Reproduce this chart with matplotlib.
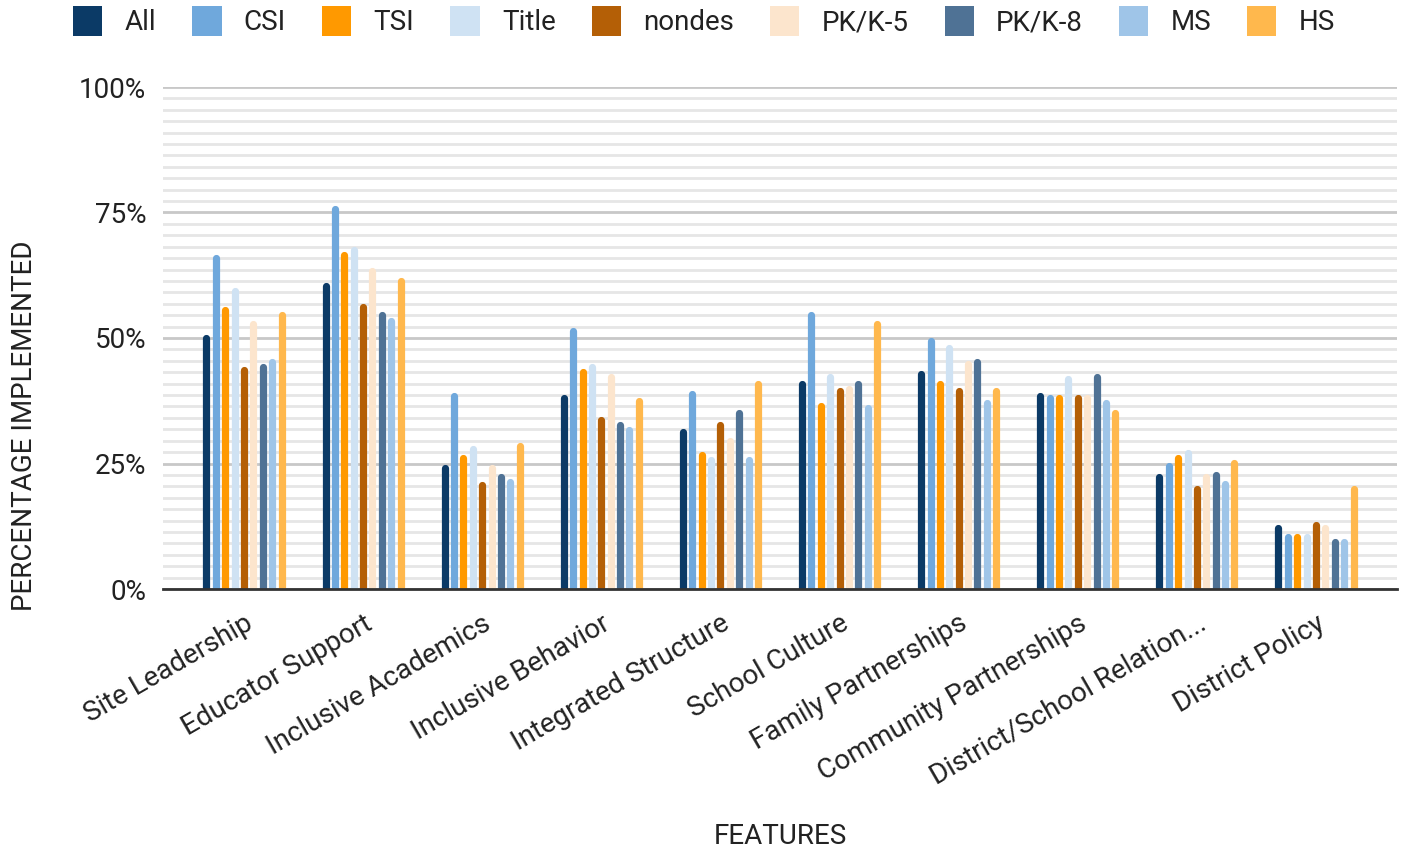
import matplotlib
matplotlib.use("Agg")
import matplotlib.pyplot as plt
import numpy as np
from matplotlib.patches import Patch

plt.rcParams['font.family'] = ['Roboto', 'DejaVu Sans']

categories = ["Site Leadership", "Educator Support", "Inclusive Academics",
              "Inclusive Behavior", "Integrated Structure", "School Culture",
              "Family Partnerships", "Community Partnerships",
              "District/School Relation...", "District Policy"]

series_names = ["All", "CSI", "TSI", "Title", "nondes", "PK/K-5", "PK/K-8", "MS", "HS"]

all_vals    = [50.0, 60.4, 24.2, 38.0, 31.3, 40.9, 42.8, 38.4, 22.3, 12.2]
csi_vals    = [66.0, 75.7, 38.4, 51.3, 38.9, 54.6, 49.4, 38.0, 24.6, 10.4]
tsi_vals    = [55.6, 66.6, 26.1, 43.2, 26.6, 36.5, 40.9, 38.0, 26.1, 10.4]
title_vals  = [59.4, 67.5, 27.9, 44.2, 25.6, 42.2, 48.0, 41.8, 27.0, 10.4]
nondes_vals = [43.7, 56.1, 20.8, 33.7, 32.7, 39.4, 39.4, 38.0, 19.9, 12.7]
pk5_vals    = [52.8, 63.3, 24.2, 42.2, 29.4, 39.8, 44.8, 38.0, 22.3, 12.2]
pk8_vals    = [44.2, 54.6, 22.3, 32.7, 35.1, 40.9, 45.2, 42.3, 22.8, 9.4]
ms_vals     = [45.2, 53.3, 21.3, 31.7, 25.6, 36.1, 37.0, 37.0, 20.9, 9.4]
hs_vals     = [54.6, 61.4, 28.4, 37.5, 40.9, 52.7, 39.4, 35.1, 25.1, 19.9]

series_values = [all_vals, csi_vals, tsi_vals, title_vals, nondes_vals,
                 pk5_vals, pk8_vals, ms_vals, hs_vals]

colors = ["#0b3a66", "#6fa8dc", "#ff9900", "#cfe2f3", "#b45f06",
          "#fce5cd", "#4f7295", "#9fc5e8", "#ffb84d"]

FS = 20
W, H = 1402, 850
fig = plt.figure(figsize=(W / 100, H / 100), dpi=100)
ax = fig.add_axes([163 / W, 1 - 589 / H, (1397 - 163) / W, (589 - 87) / H])

x = np.arange(len(categories))
step = 0.0788
n = len(series_names)
for j, (vals, col) in enumerate(zip(series_values, colors)):
    xs = x + (j - (n - 1) / 2) * step
    lc = ax.vlines(xs, 0, vals, colors=col, linewidth=5.2, zorder=3)
    lc.set_capstyle('round')

ax.set_xlim(-0.68, len(categories) - 1 + 0.68)
ax.set_ylim(0, 100)

# gridlines
major = [0, 25, 50, 75, 100]
minor = []
for k in range(4):
    for m in range(1, 11):
        minor.append(25 * k + 25 * m / 11)
ax.set_yticks(major)
ax.set_yticks(minor, minor=True)
ax.set_yticklabels([f"{v}%" for v in major])
ax.grid(axis='y', which='major', color='#c8c8c8', linewidth=2.0, zorder=0)
ax.grid(axis='y', which='minor', color='#e6e6e6', linewidth=2.0, zorder=0)
ax.tick_params(axis='y', which='both', length=0, labelsize=FS, pad=12, colors='#222222')
ax.tick_params(axis='x', length=0, labelsize=FS, pad=15, colors='#222222')

for s in ['top', 'right', 'left']:
    ax.spines[s].set_visible(False)
ax.spines['bottom'].set_color('#333333')
ax.spines['bottom'].set_linewidth(2.0)
ax.spines['bottom'].set_zorder(4)

ax.set_xticks(x)
ax.set_xticklabels(categories, rotation=30, ha='right', va='top', rotation_mode='anchor')

fig.text(25 / W, 1 - 426 / H, "PERCENTAGE IMPLEMENTED", rotation=90,
         ha='center', va='center', fontsize=FS, color='#222222')
fig.text(780 / W, 1 - 836 / H, "FEATURES", ha='center', va='center',
         fontsize=FS, color='#222222')

handles = [Patch(facecolor=c, edgecolor='none') for c in colors]
fig.legend(handles, series_names, loc='center', bbox_to_anchor=(704 / W, 1 - 21 / H),
           ncol=9, frameon=False, fontsize=FS, handlelength=1.05, handleheight=1.3,
           handletextpad=0.8, columnspacing=1.3, labelcolor='#222222')

fig.savefig("out.png", dpi=100)
